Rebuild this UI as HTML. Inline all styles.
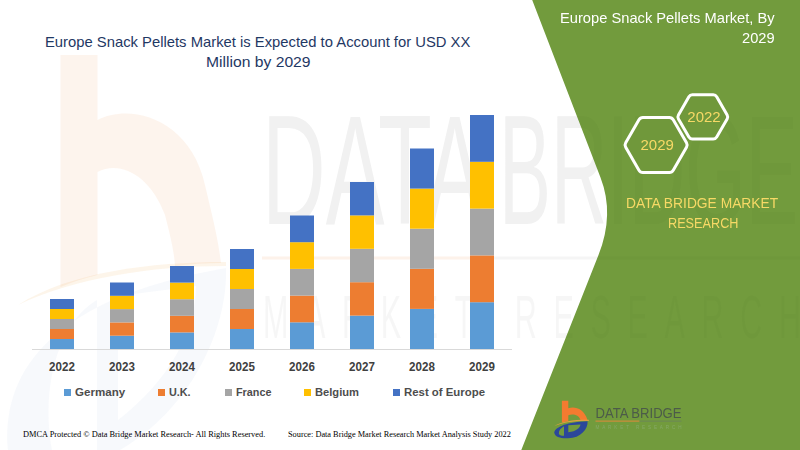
<!DOCTYPE html>
<html>
<head>
<meta charset="utf-8">
<title>Europe Snack Pellets Market</title>
<style>
html,body{margin:0;padding:0;}
body{width:800px;height:450px;overflow:hidden;background:#ffffff;position:relative;font-family:"Liberation Sans",sans-serif;}
#stage{position:absolute;left:0;top:0;width:800px;height:450px;overflow:hidden;background:#fff;}
.abs{position:absolute;white-space:nowrap;transform-origin:0 0;}
#bg{position:absolute;left:0;top:0;}
.title{color:#1f3864;font-size:15px;line-height:20px;}
.rt{color:#ffffff;font-size:15px;line-height:20px;}
.yl{color:#f7d966;font-size:15px;line-height:20px;}
.xl{color:#404040;font-weight:bold;font-size:12px;line-height:14px;width:60px;text-align:center;transform:scaleX(0.965);transform-origin:50% 0;}
.lg{color:#4d4d4d;font-weight:bold;font-size:11.6px;line-height:14px;}
.ft{font-family:"Liberation Serif",serif;color:#000;font-size:8.6px;line-height:10px;}
</style>
</head>
<body>
<div id="stage">
<svg id="bg" width="800" height="450" viewBox="0 0 800 450">
  <defs><clipPath id="gclip"><path d="M532.2,0 L600.5,177.5 Q614.7,214.2 598.5,255 L521.3,450 L800,450 L800,0 Z"/></clipPath></defs>
  <!-- watermark -->
  <g id="wm">
    <path d="M60.5,55 L97.5,55 L97.5,120 C130,103 190,118 205,185 C212,215 218,238 221,263 C205,263 190,264 175,266 C174,250 170,235 165,215 C150,175 120,160 97.5,172 L97.5,275 C85,278 72,282 60.5,287 Z" fill="#ed7d31" opacity="0.085"/>
    <path d="M18,305 C70,272 150,262 226,262 L226,266 C150,266 75,278 18,305 Z" fill="#f0a030" opacity="0.10"/>
    <path fill-rule="evenodd" d="M8,450 C2,380 40,300 226,268 C228,330 190,410 120,450 Z M52,450 C40,380 62,320 97,300 L97,450 Z M118,296 L196,286 C196,330 170,380 118,420 Z" fill="#4472c4" opacity="0.045"/>
    <g fill="#7f7f7f" opacity="0.11" font-family="Liberation Sans, sans-serif">
      <text x="262" y="224" font-size="155" textLength="222" lengthAdjust="spacingAndGlyphs">DATA</text>
      <text x="499" y="224" font-size="155" textLength="299" lengthAdjust="spacingAndGlyphs">BRIDGE</text>
      <text transform="translate(263,338) scale(0.5,1)" font-size="61" textLength="1076" lengthAdjust="spacing" opacity="0.6">MARKET RESEARCH</text>
    </g>
    <rect x="262" y="256.5" width="230" height="3" fill="#ed7d31" opacity="0.10"/>
    <rect x="492" y="256.5" width="110" height="3" fill="#999" opacity="0.10"/>
  </g>
  <!-- green panel -->
  <path id="green" d="M532.2,0 L600.5,177.5 Q614.7,214.2 598.5,255 L521.3,450 L800,450 L800,0 Z" fill="#729b3d"/>
  <g clip-path="url(#gclip)" fill="#2f4a14" opacity="0.032" font-family="Liberation Sans, sans-serif">
    <text x="499" y="224" font-size="155" textLength="299" lengthAdjust="spacingAndGlyphs">BRIDGE</text>
    <text transform="translate(263,338) scale(0.5,1)" font-size="61" textLength="1076" lengthAdjust="spacing" opacity="0.6">MARKET RESEARCH</text>
    <rect x="492" y="256.5" width="308" height="3"/>
  </g>
  <!-- axis -->
  <rect x="32" y="349" width="480" height="1" fill="#d9d9d9"/>
  <!-- bars -->
  <g id="bars">
    <rect x="50" y="339.00" width="24" height="10.00" fill="#5b9bd5"/>
    <rect x="50" y="329.00" width="24" height="10.00" fill="#ed7d31"/>
    <rect x="50" y="319.00" width="24" height="10.00" fill="#a5a5a5"/>
    <rect x="50" y="309.00" width="24" height="10.00" fill="#ffc000"/>
    <rect x="50" y="299.00" width="24" height="10.00" fill="#4472c4"/>
    <rect x="110" y="335.70" width="24" height="13.30" fill="#5b9bd5"/>
    <rect x="110" y="322.40" width="24" height="13.30" fill="#ed7d31"/>
    <rect x="110" y="309.10" width="24" height="13.30" fill="#a5a5a5"/>
    <rect x="110" y="295.80" width="24" height="13.30" fill="#ffc000"/>
    <rect x="110" y="282.50" width="24" height="13.30" fill="#4472c4"/>
    <rect x="170" y="332.40" width="24" height="16.60" fill="#5b9bd5"/>
    <rect x="170" y="315.80" width="24" height="16.60" fill="#ed7d31"/>
    <rect x="170" y="299.20" width="24" height="16.60" fill="#a5a5a5"/>
    <rect x="170" y="282.60" width="24" height="16.60" fill="#ffc000"/>
    <rect x="170" y="266.00" width="24" height="16.60" fill="#4472c4"/>
    <rect x="230" y="329.00" width="24" height="20.00" fill="#5b9bd5"/>
    <rect x="230" y="309.00" width="24" height="20.00" fill="#ed7d31"/>
    <rect x="230" y="289.00" width="24" height="20.00" fill="#a5a5a5"/>
    <rect x="230" y="269.00" width="24" height="20.00" fill="#ffc000"/>
    <rect x="230" y="249.00" width="24" height="20.00" fill="#4472c4"/>
    <rect x="290" y="322.30" width="24" height="26.70" fill="#5b9bd5"/>
    <rect x="290" y="295.60" width="24" height="26.70" fill="#ed7d31"/>
    <rect x="290" y="268.90" width="24" height="26.70" fill="#a5a5a5"/>
    <rect x="290" y="242.20" width="24" height="26.70" fill="#ffc000"/>
    <rect x="290" y="215.50" width="24" height="26.70" fill="#4472c4"/>
    <rect x="350" y="315.60" width="24" height="33.40" fill="#5b9bd5"/>
    <rect x="350" y="282.20" width="24" height="33.40" fill="#ed7d31"/>
    <rect x="350" y="248.80" width="24" height="33.40" fill="#a5a5a5"/>
    <rect x="350" y="215.40" width="24" height="33.40" fill="#ffc000"/>
    <rect x="350" y="182.00" width="24" height="33.40" fill="#4472c4"/>
    <rect x="410" y="308.90" width="24" height="40.10" fill="#5b9bd5"/>
    <rect x="410" y="268.80" width="24" height="40.10" fill="#ed7d31"/>
    <rect x="410" y="228.70" width="24" height="40.10" fill="#a5a5a5"/>
    <rect x="410" y="188.60" width="24" height="40.10" fill="#ffc000"/>
    <rect x="410" y="148.50" width="24" height="40.10" fill="#4472c4"/>
    <rect x="470" y="302.20" width="24" height="46.80" fill="#5b9bd5"/>
    <rect x="470" y="255.40" width="24" height="46.80" fill="#ed7d31"/>
    <rect x="470" y="208.60" width="24" height="46.80" fill="#a5a5a5"/>
    <rect x="470" y="161.80" width="24" height="46.80" fill="#ffc000"/>
    <rect x="470" y="115.00" width="24" height="46.80" fill="#4472c4"/>
  </g>
  <!-- hexagons -->
  <g fill="none" stroke="#ffffff" stroke-width="3" stroke-linejoin="round">
    <path d="M625.70,147.25 A4.50,4.50 0 0 1 625.70,142.75 L638.95,119.85 A4.50,4.50 0 0 1 642.85,117.60 L669.35,117.60 A4.50,4.50 0 0 1 673.25,119.85 L686.50,142.75 A4.50,4.50 0 0 1 686.50,147.25 L673.25,170.15 A4.50,4.50 0 0 1 669.35,172.40 L642.85,172.40 A4.50,4.50 0 0 1 638.95,170.15 Z" fill="#70983b"/>
    <path d="M678.45,118.90 A4.00,4.00 0 0 1 678.45,114.90 L688.90,96.70 A4.00,4.00 0 0 1 692.36,94.70 L713.24,94.70 A4.00,4.00 0 0 1 716.70,96.70 L727.15,114.90 A4.00,4.00 0 0 1 727.15,118.90 L716.70,137.10 A4.00,4.00 0 0 1 713.24,139.10 L692.36,139.10 A4.00,4.00 0 0 1 688.90,137.10 Z" fill="#70983b"/>
  </g>
</svg>

<div class="abs title" style="left:45px;top:31.5px;transform:scaleX(0.9868);" id="t1">Europe Snack Pellets Market is Expected to Account for USD XX</div>
<div class="abs title" style="left:205.5px;top:51.5px;transform:scaleX(1.045);" id="t2">Million by 2029</div>

<div class="abs rt" style="left:560px;top:8px;transform:scaleX(0.979);" id="r1">Europe Snack Pellets Market, By</div>
<div class="abs rt" style="left:742px;top:28px;transform:scaleX(0.977);" id="r2">2029</div>

<div class="abs yl" style="left:640.5px;top:135px;" id="h1">2029</div>
<div class="abs yl" style="left:687.3px;top:106.5px;" id="h2">2022</div>

<div class="abs yl" style="left:625.8px;top:193.4px;transform:scaleX(0.9207);" id="d1">DATA BRIDGE MARKET</div>
<div class="abs yl" style="left:668.2px;top:213.1px;transform:scaleX(0.8453);" id="d2">RESEARCH</div>

<div class="abs xl" style="left:32px;top:359.8px;">2022</div>
<div class="abs xl" style="left:92px;top:359.8px;">2023</div>
<div class="abs xl" style="left:152px;top:359.8px;">2024</div>
<div class="abs xl" style="left:212px;top:359.8px;">2025</div>
<div class="abs xl" style="left:272px;top:359.8px;">2026</div>
<div class="abs xl" style="left:332px;top:359.8px;">2027</div>
<div class="abs xl" style="left:392px;top:359.8px;">2028</div>
<div class="abs xl" style="left:452px;top:359.8px;">2029</div>

<div class="abs" style="left:64px;top:389px;width:7px;height:7px;background:#5b9bd5;"></div>
<div class="abs lg" style="left:74.8px;top:385px;transform:scaleX(0.998);" id="l1">Germany</div>
<div class="abs" style="left:158px;top:389px;width:7px;height:7px;background:#ed7d31;"></div>
<div class="abs lg" style="left:169.4px;top:385px;transform:scaleX(0.931);" id="l2">U.K.</div>
<div class="abs" style="left:225px;top:389px;width:7px;height:7px;background:#a5a5a5;"></div>
<div class="abs lg" style="left:236px;top:385px;transform:scaleX(0.9316);" id="l3">France</div>
<div class="abs" style="left:304px;top:389px;width:7px;height:7px;background:#ffc000;"></div>
<div class="abs lg" style="left:315.4px;top:385px;transform:scaleX(0.963);" id="l4">Belgium</div>
<div class="abs" style="left:393px;top:389px;width:7px;height:7px;background:#4472c4;"></div>
<div class="abs lg" style="left:403.6px;top:385px;transform:scaleX(0.982);" id="l5">Rest of Europe</div>

<div class="abs ft" style="left:22.5px;top:428.7px;transform:scaleX(0.971);" id="f1">DMCA Protected © Data Bridge Market Research- All Rights Reserved.</div>
<div class="abs ft" style="left:287.5px;top:429px;transform:scaleX(0.9645);" id="f2">Source: Data Bridge Market Research Market Analysis Study 2022</div>

<!-- logo -->
<svg class="abs" style="left:548px;top:396px;" width="150" height="50" viewBox="0 0 150 50">
  <path d="M13.9,4.8 L20.3,4.8 L20.3,12.3 C26,10 36,12 39.5,24 L32.5,24 C31,19 25,17.5 20.3,19.2 L20.3,25 L13.9,26.5 Z" fill="#f47b30"/>
  <path d="M6.2,30.2 C14,25.2 26,23.6 40.8,23.8 L40.8,25 C26,24.8 14,26.6 6.2,30.2 Z" fill="#e0a040"/>
  <path fill-rule="evenodd" d="M6.2,36.5 C7.5,30.5 20,25.8 39.6,25.2 C40,33 33,42 20,42.3 C12,42.5 7,41 6.2,36.5 Z M10.8,37.5 C10.8,34.5 13,32 16,30.3 L16,39.8 C13,39.8 11,39 10.8,37.5 Z M20.3,29.3 L32.5,28.6 C32,32 28.5,35.6 20.3,36.2 Z" fill="#2b479a"/>
  <text x="47.5" y="22" font-family="Liberation Sans, sans-serif" font-size="14.6" fill="#4c5b49" textLength="86" lengthAdjust="spacingAndGlyphs">DATA BRIDGE</text>
  <rect x="47.5" y="24.6" width="44" height="1" fill="#e08a3a"/>
  <rect x="91.5" y="24.6" width="42" height="1" fill="#6c8758"/>
  <text x="47.5" y="32.6" font-family="Liberation Sans, sans-serif" font-size="4.6" fill="#86a866" textLength="86" lengthAdjust="spacing">MARKET RESEARCH</text>
</svg>
</div>
</body>
</html>
